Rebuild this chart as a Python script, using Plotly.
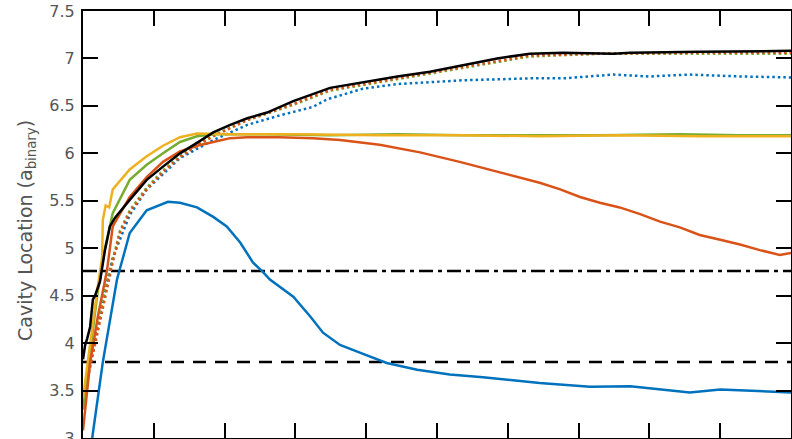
import plotly.graph_objects as go

# ---- data (time in arbitrary units, cavity location in a_binary) ----
black_x = [0.00, 0.03, 0.06, 0.10, 0.14, 0.17, 0.24, 0.28, 0.31, 0.38, 0.45, 0.66, 0.90, 1.13, 1.37, 1.61,
           1.84, 2.08, 2.32, 2.60, 2.97, 3.49, 3.95, 4.44, 4.90, 5.37, 5.85, 6.31, 6.78, 7.49, 7.73, 8.71, 10.0]
black_y = [3.83, 3.98, 4.05, 4.17, 4.46, 4.50, 4.65, 4.85, 4.98, 5.23, 5.32, 5.51, 5.72, 5.86, 6.00, 6.11,
           6.22, 6.30, 6.37, 6.43, 6.55, 6.69, 6.75, 6.81, 6.86, 6.93, 7.00, 7.05, 7.06, 7.05, 7.06, 7.07, 7.08]

orange_dot_x = [0.00, 0.17, 0.31, 0.42, 0.52, 0.66, 0.90, 1.13, 1.37, 1.61, 1.84, 2.32, 2.97, 3.49, 4.44,
                5.37, 6.31, 7.30, 8.71, 10.0]
orange_dot_y = [3.40, 4.00, 4.50, 4.85, 5.16, 5.38, 5.62, 5.80, 5.96, 6.08, 6.18, 6.35, 6.52, 6.67, 6.79,
                6.91, 7.03, 7.05, 7.06, 7.06]

green_dot_x = [0.00, 0.17, 0.31, 0.42, 0.52, 0.66, 0.90, 1.13, 1.37, 1.61, 1.84, 2.32, 2.97, 3.49, 4.44,
               5.37, 6.31, 7.30, 8.71, 10.0]
green_dot_y = [3.35, 4.05, 4.55, 4.88, 5.18, 5.40, 5.64, 5.82, 5.97, 6.09, 6.19, 6.35, 6.51, 6.66, 6.78,
               6.90, 7.02, 7.05, 7.05, 7.05]

blue_dot_x = [0.00, 0.17, 0.31, 0.42, 0.66, 0.90, 1.37, 1.84, 2.32, 2.78, 3.25, 3.45, 3.95, 4.44, 4.90,
              5.37, 5.85, 6.31, 6.78, 7.49, 8.00, 8.57, 9.28, 10.0]
blue_dot_y = [3.40, 4.05, 4.55, 4.90, 5.35, 5.62, 5.95, 6.14, 6.30, 6.40, 6.49, 6.57, 6.68, 6.73, 6.75,
              6.77, 6.78, 6.79, 6.79, 6.83, 6.81, 6.83, 6.81, 6.80]

yellow_x = [0.00, 0.10, 0.20, 0.27, 0.28, 0.32, 0.37, 0.42, 0.66, 0.90, 1.13, 1.37, 1.61, 2.08, 3.02,
            4.19, 5.32, 6.45, 7.58, 8.71, 9.56, 10.0]
yellow_y = [3.42, 4.00, 4.55, 4.90, 5.30, 5.45, 5.43, 5.62, 5.83, 5.97, 6.08, 6.17, 6.21, 6.20, 6.20,
            6.19, 6.19, 6.18, 6.19, 6.18, 6.18, 6.18]

green_x = [0.00, 0.10, 0.20, 0.31, 0.42, 0.66, 0.90, 1.13, 1.37, 1.61, 1.84, 2.60, 3.49, 4.44, 5.37,
           6.31, 7.30, 8.43, 9.28, 10.0]
green_y = [3.30, 3.90, 4.50, 5.00, 5.37, 5.72, 5.88, 6.00, 6.12, 6.18, 6.20, 6.20, 6.19, 6.20, 6.19,
           6.19, 6.19, 6.20, 6.19, 6.19]

orange_x = [0.00, 0.10, 0.21, 0.34, 0.42, 0.66, 0.90, 1.13, 1.37, 1.61, 1.84, 2.08, 2.32, 2.78, 3.25,
            3.63, 4.19, 4.76, 5.32, 5.89, 6.17, 6.45, 6.74, 7.02, 7.30, 7.58, 7.87, 8.15, 8.43, 8.71,
            9.00, 9.28, 9.56, 9.84, 10.0]
orange_y = [3.08, 3.79, 4.28, 4.77, 5.23, 5.54, 5.75, 5.91, 6.02, 6.08, 6.12, 6.16, 6.17, 6.17, 6.16,
            6.14, 6.09, 6.01, 5.91, 5.80, 5.74, 5.69, 5.62, 5.54, 5.48, 5.43, 5.36, 5.28, 5.22, 5.14,
            5.09, 5.04, 4.98, 4.93, 4.95]

blue_x = [0.13, 0.28, 0.48, 0.66, 0.90, 1.20, 1.37, 1.61, 1.84, 2.03, 2.22, 2.40, 2.54, 2.64, 2.97,
          3.21, 3.39, 3.63, 3.91, 4.29, 4.72, 5.18, 5.65, 6.45, 7.16, 7.73, 8.57, 9.00, 10.0]
blue_y = [3.00, 3.80, 4.67, 5.16, 5.40, 5.49, 5.48, 5.43, 5.33, 5.23, 5.06, 4.85, 4.75, 4.67, 4.49,
          4.28, 4.11, 3.98, 3.90, 3.79, 3.72, 3.67, 3.64, 3.58, 3.54, 3.545, 3.48, 3.51, 3.48]

dashdot_level = 4.76
dashed_level = 3.80
x_span = [0, 10]

y_ticks = [3, 3.5, 4, 4.5, 5, 5.5, 6, 6.5, 7, 7.5]
y_ticklabels = ["3", "3.5", "4", "4.5", "5", "5.5", "6", "6.5", "7", "7.5"]

BLUE = "#0072BD"
ORANGE = "#D95319"
YELLOW = "#EDB120"
GREEN = "#77AC30"
LW = 2.5

fig = go.Figure()

fig.add_trace(go.Scatter(x=x_span, y=[dashdot_level] * 2, mode="lines",
                         line=dict(color="black", width=LW, dash="14px,5px,4px,5px")))
fig.add_trace(go.Scatter(x=x_span, y=[dashed_level] * 2, mode="lines",
                         line=dict(color="black", width=LW, dash="13px,9px")))

fig.add_trace(go.Scatter(x=blue_dot_x, y=blue_dot_y, mode="lines",
                         line=dict(color=BLUE, width=LW, dash="2.5px,3px")))
fig.add_trace(go.Scatter(x=green_dot_x, y=green_dot_y, mode="lines",
                         line=dict(color=GREEN, width=LW, dash="2.5px,3px")))
fig.add_trace(go.Scatter(x=orange_dot_x, y=orange_dot_y, mode="lines",
                         line=dict(color=ORANGE, width=LW, dash="2.5px,3px")))
fig.add_trace(go.Scatter(x=green_x, y=green_y, mode="lines", line=dict(color=GREEN, width=LW)))
fig.add_trace(go.Scatter(x=yellow_x, y=yellow_y, mode="lines", line=dict(color=YELLOW, width=LW)))
fig.add_trace(go.Scatter(x=orange_x, y=orange_y, mode="lines", line=dict(color=ORANGE, width=LW)))
fig.add_trace(go.Scatter(x=blue_x, y=blue_y, mode="lines", line=dict(color=BLUE, width=LW)))
fig.add_trace(go.Scatter(x=black_x, y=black_y, mode="lines", line=dict(color="black", width=LW)))

axis_common = dict(showline=True, linecolor="black", linewidth=2, mirror="ticks",
                   ticks="inside", ticklen=15, tickwidth=2, tickcolor="black",
                   showgrid=False, zeroline=False, automargin=False)

fig.update_layout(
    width=792, height=439,
    margin=dict(l=83, r=1, t=11, b=1),
    paper_bgcolor="white", plot_bgcolor="white",
    showlegend=False,
    font=dict(family="DejaVu Sans", color="#555555"),
    xaxis=dict(range=x_span, tick0=0, dtick=1, showticklabels=False, **axis_common),
    yaxis=dict(range=[3, 7.5], tickvals=y_ticks, ticktext=y_ticklabels,
               tickfont=dict(size=16, color="#555555"), ticklabelstandoff=3,
               ticklabeloverflow="allow", **axis_common),
    annotations=[dict(text="Cavity Location (a<sub>binary</sub>)", textangle=-90,
                      xref="paper", yref="paper", x=-0.079, y=0.485,
                      xanchor="center", yanchor="middle", showarrow=False,
                      font=dict(size=19, color="#555555", family="DejaVu Sans"))],
)

fig.write_html("out.html")
